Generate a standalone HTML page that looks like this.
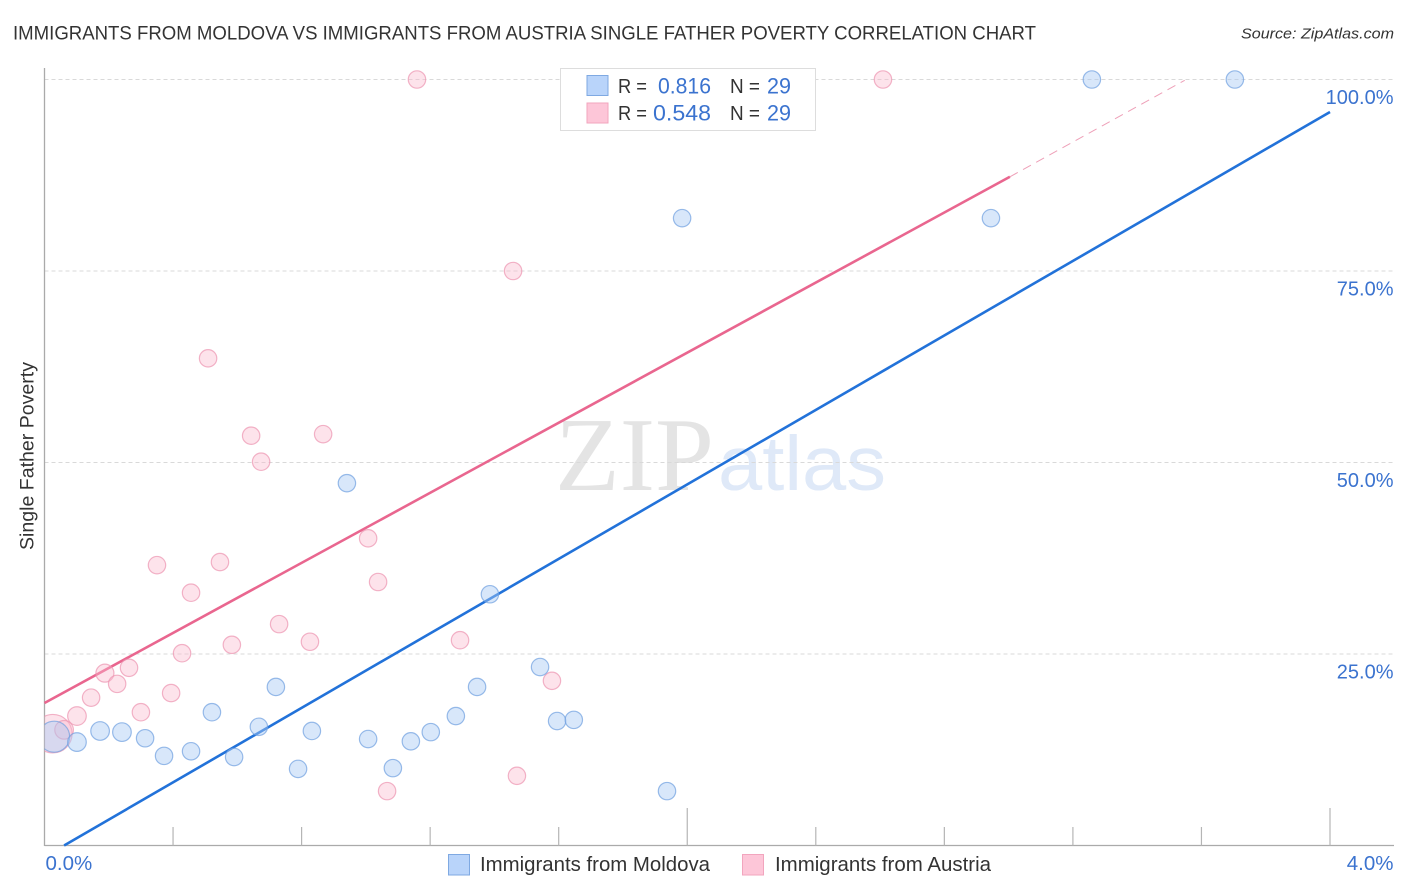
<!DOCTYPE html>
<html>
<head>
<meta charset="utf-8">
<title>Immigrants from Moldova vs Immigrants from Austria Single Father Poverty Correlation Chart</title>
<style>
html,body{margin:0;padding:0;background:#fff;}
svg{display:block;font-family:"Liberation Sans",sans-serif;}
</style>
</head>
<body>
<svg id="chart" xmlns="http://www.w3.org/2000/svg" width="1406" height="892" viewBox="0 0 1406 892">
  <rect x="0" y="0" width="1406" height="892" fill="#ffffff"/>
  <text x="13" y="39.5" font-size="19.5" fill="#333" textLength="1023" lengthAdjust="spacingAndGlyphs">IMMIGRANTS FROM MOLDOVA VS IMMIGRANTS FROM AUSTRIA SINGLE FATHER POVERTY CORRELATION CHART</text>
  <text x="1241" y="38.5" font-size="15" font-style="italic" fill="#333" textLength="153" lengthAdjust="spacingAndGlyphs">Source: ZipAtlas.com</text>

  <g>
    <text x="555" y="490" font-family="'Liberation Serif',serif" font-size="105" fill="#e4e4e4" textLength="159" lengthAdjust="spacingAndGlyphs">ZIP</text>
    <text x="718" y="490" font-family="'Liberation Sans',sans-serif" font-size="77" fill="#dfe9f8" textLength="168" lengthAdjust="spacingAndGlyphs">atlas</text>
  </g>

  <g id="grid"></g>
  <g id="axes"></g>
  <g id="trends"></g>
  <g id="points"></g>

  <text transform="translate(33.5,456) rotate(-90)" text-anchor="middle" font-size="19" fill="#333" textLength="188" lengthAdjust="spacingAndGlyphs">Single Father Poverty</text>

  <g>
    <rect x="560.5" y="68.5" width="255" height="62" fill="#ffffff" stroke="#dddddd" stroke-width="1"/>
    <rect x="587" y="75.5" width="21" height="20" fill="#b9d4fa" stroke="#7fa9e2" stroke-width="1"/>
    <rect x="587" y="103" width="21" height="20" fill="#fdc6d8" stroke="#f2a5be" stroke-width="1"/>
    <text x="618" y="93" font-size="20" fill="#333" textLength="29" lengthAdjust="spacingAndGlyphs">R =</text>
    <text x="658" y="93.5" font-size="22" fill="#3b73cf" textLength="53" lengthAdjust="spacingAndGlyphs">0.816</text>
    <text x="730" y="93" font-size="20" fill="#333" textLength="30" lengthAdjust="spacingAndGlyphs">N =</text>
    <text x="767" y="93.5" font-size="22" fill="#3b73cf" textLength="24" lengthAdjust="spacingAndGlyphs">29</text>
    <text x="618" y="120" font-size="20" fill="#333" textLength="29" lengthAdjust="spacingAndGlyphs">R =</text>
    <text x="653" y="120.5" font-size="22" fill="#3b73cf" textLength="58" lengthAdjust="spacingAndGlyphs">0.548</text>
    <text x="730" y="120" font-size="20" fill="#333" textLength="30" lengthAdjust="spacingAndGlyphs">N =</text>
    <text x="767" y="120.5" font-size="22" fill="#3b73cf" textLength="24" lengthAdjust="spacingAndGlyphs">29</text>
  </g>

  <g>
    <g>
      <rect x="448.5" y="854.5" width="21" height="20.5" fill="#b9d4fa" stroke="#7fa9e2" stroke-width="1"/>
      <text x="480" y="871" font-size="20" fill="#333" textLength="230" lengthAdjust="spacingAndGlyphs">Immigrants from Moldova</text>
    </g>
    <g>
      <rect x="742.5" y="854.5" width="21" height="20.5" fill="#fdc6d8" stroke="#f2a5be" stroke-width="1"/>
      <text x="775" y="871" font-size="20" fill="#333" textLength="216" lengthAdjust="spacingAndGlyphs">Immigrants from Austria</text>
    </g>
  </g>
</svg>
<script>
// Percent values
const yTickValues = [25, 50, 75, 100];
const yTickLabels = ["25.0%", "50.0%", "75.0%", "100.0%"];
const xMinorTicks = [0.4, 0.8, 1.2, 1.6, 2.4, 2.8, 3.2, 3.6];
const xMajorTicks = [2.0, 4.0];
const xEndValues = [0, 4];
const xEndLabels = ["0.0%", "4.0%"];

const moldovaX = [0.030,0.101,0.173,0.241,0.313,0.372,0.456,0.521,0.590,0.667,0.720,0.789,0.832,0.941,1.007,1.084,1.140,1.202,1.280,1.346,1.386,1.542,1.595,1.647,1.937,1.984,2.945,3.259,3.704];
const moldovaY = [14.2,13.5,14.95,14.8,14.0,11.7,12.3,17.4,11.55,15.5,20.7,10.0,14.95,47.3,13.9,10.1,13.6,14.8,16.9,20.7,32.8,23.3,16.25,16.4,7.1,81.9,81.9,100,100];
const moldovaWeight = [3.2,1.2,1.2,1.2,1,1,1,1,1,1,1,1,1,1,1,1,1,1,1,1,1,1,1,1,1,1,1,1,1];

const austriaX = [0.026,0.061,0.101,0.145,0.188,0.226,0.263,0.300,0.350,0.394,0.428,0.456,0.509,0.546,0.583,0.643,0.674,0.730,0.826,0.867,1.007,1.038,1.066,1.159,1.293,1.458,1.470,1.579,2.609];
const austriaY = [14.6,15.1,16.9,19.3,22.5,21.1,23.2,17.4,36.6,19.9,25.1,33.0,63.6,37.0,26.2,53.5,50.1,28.9,26.6,53.7,40.1,34.4,7.1,100,26.8,75,9.1,21.5,100];
const austriaWeight = [4.4,1.2,1.2,1,1.1,1,1,1,1,1,1,1,1,1,1,1,1,1,1,1,1,1,1,1,1,1,1,1,1];

const moldovaTrendX = [0.061, 4.0];
const moldovaTrendY = [0, 95.76];
const austriaTrendX = [0, 3.004];
const austriaTrendY = [18.6, 87.3];
const austriaProjectionX = [3.004, 3.548];
const austriaProjectionY = [87.3, 99.9];

const NS = "http://www.w3.org/2000/svg";
const plotLeft = 44.5, plotRight = 1330, plotBottom = 845.5, plotTop = 79.5;
function xScale(v){ return plotLeft + (v / 4) * (plotRight - plotLeft); }
function yScale(v){ return plotBottom - (v / 100) * (plotBottom - plotTop); }
function radius(w){ return w > 1 ? 8.7 + (w - 1) * 3.1 : 8.7; }
function make(tag, parent, attrs){
  const el = document.createElementNS(NS, tag);
  for (const k in attrs) el.setAttribute(k, attrs[k]);
  parent.appendChild(el);
  return el;
}

const svg = document.getElementById("chart");
const grid = document.getElementById("grid");
const axes = document.getElementById("axes");
const trends = document.getElementById("trends");
const pointsG = document.getElementById("points");

const defs = make("defs", svg, {});
const clip = make("clipPath", defs, {id:"plot-clip"});
make("rect", clip, {x:plotLeft, y:60, width:1360, height:790});

yTickValues.forEach((v, i) => {
  const g = make("line", grid, {x1:plotLeft, x2:1394, y1:yScale(v), y2:yScale(v), stroke:"#d9d9d9", "stroke-width":1, "stroke-dasharray":"4 3"});
  
  
  const t = make("text", axes, {x:1393.5, y:yScale(v) + 24.5, "text-anchor":"end", "font-size":20, fill:"#3b73cf"});
  t.textContent = yTickLabels[i];
  
  
});

const yAxis = make("line", axes, {x1:plotLeft, x2:plotLeft, y1:68, y2:plotBottom + 0.5, stroke:"#aaaaaa", "stroke-width":1.3});


const xAxis = make("line", axes, {x1:plotLeft, x2:1394, y1:plotBottom, y2:plotBottom, stroke:"#aaaaaa", "stroke-width":1.3});



xMinorTicks.forEach(v => {
  const l = make("line", axes, {x1:xScale(v), x2:xScale(v), y1:827, y2:plotBottom, stroke:"#b5b5b5", "stroke-width":1.2});
  
  
});
xMajorTicks.forEach(v => {
  const l = make("line", axes, {x1:xScale(v), x2:xScale(v), y1:808, y2:plotBottom, stroke:"#b5b5b5", "stroke-width":1.2});
  
  
});
xEndValues.forEach((v, i) => {
  const t = make("text", axes, {x: i === 0 ? xScale(v) + 1 : 1393.5, y:870, "text-anchor": i === 0 ? "start" : "end", "font-size":20.5, fill:"#3b73cf"});
  t.textContent = xEndLabels[i];
  
  
});

const blueLine = make("line", trends, {x1:xScale(moldovaTrendX[0]), y1:yScale(moldovaTrendY[0]), x2:xScale(moldovaTrendX[1]), y2:yScale(moldovaTrendY[1]), stroke:"#2272d9", "stroke-width":2.6});


const pinkLine = make("line", trends, {x1:xScale(austriaTrendX[0]), y1:yScale(austriaTrendY[0]), x2:xScale(austriaTrendX[1]), y2:yScale(austriaTrendY[1]), stroke:"#e9668f", "stroke-width":2.6});


const pinkDash = make("line", trends, {x1:xScale(austriaProjectionX[0]), y1:yScale(austriaProjectionY[0]), x2:xScale(austriaProjectionX[1]), y2:yScale(austriaProjectionY[1]), stroke:"#eea0b8", "stroke-width":1, "stroke-dasharray":"9 6"});



austriaX.forEach((x, i) => {
  const c = make("circle", pointsG, {cx:xScale(x), cy:yScale(austriaY[i]), r:radius(austriaWeight[i]), fill:"#f9b8cd", "fill-opacity":0.4, stroke:"#ec94b0", "stroke-opacity":0.7, "stroke-width":1.2, "clip-path":"url(#plot-clip)"});
  
  
});
moldovaX.forEach((x, i) => {
  const c = make("circle", pointsG, {cx:xScale(x), cy:yScale(moldovaY[i]), r:radius(moldovaWeight[i]), fill:"#a9c9f5", "fill-opacity":0.45, stroke:"#6f9fe0", "stroke-opacity":0.7, "stroke-width":1.2, "clip-path":"url(#plot-clip)"});
  
  
});
</script>
</body>
</html>
